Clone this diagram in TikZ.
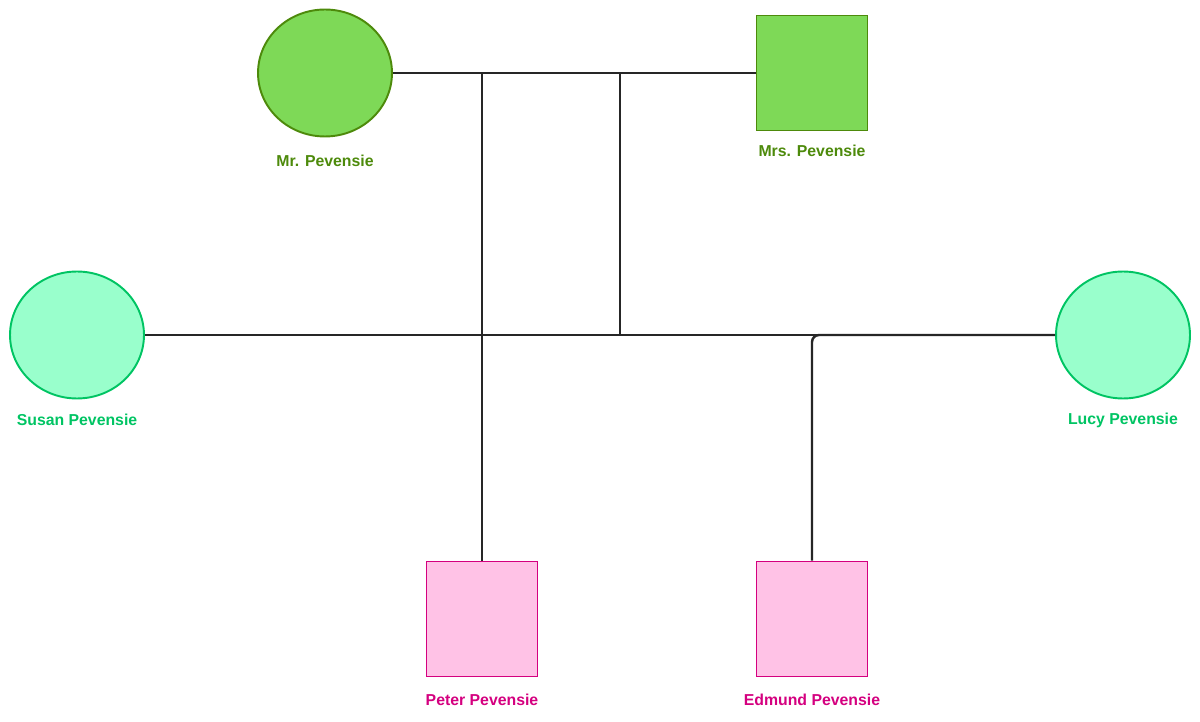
\documentclass[tikz,border=0pt]{standalone}
\usepackage{fontspec}
\setmainfont{Liberation Sans}
\usetikzlibrary{shapes.geometric}

\definecolor{mrfill}{HTML}{7ED957}
\definecolor{mrdraw}{HTML}{4D8A0B}
\definecolor{sisfill}{HTML}{99FFCC}
\definecolor{sisdraw}{HTML}{00C463}
\definecolor{brofill}{HTML}{FFC2E6}
\definecolor{brodraw}{HTML}{D4007F}

\tikzset{
  female/.style={ellipse, draw, line width=1.1pt, minimum width=2.68cm, minimum height=2.54cm, inner sep=0pt},
  male/.style={rectangle, draw, line width=1.1pt, minimum width=2.22cm, minimum height=2.30cm, inner sep=0pt},
  parent/.style={fill=mrfill, draw=mrdraw},
  sister/.style={fill=sisfill, draw=sisdraw},
  brother/.style={fill=brofill, draw=brodraw},
  personlabel/.style={font=\bfseries\fontsize{9}{10}\selectfont},
  link/.style={draw=black!85, line width=0.8pt}
}

\begin{document}
\begin{tikzpicture}[x=0.02cm, y=-0.02cm]
\useasboundingbox (0,0) rectangle (1200,722);
% parents
\node[female, parent] (mr) at (325,73) {};
\node[male, parent] (mrs) at (812,73) {};
\node[personlabel, text=mrdraw] (mrlabel) at (325,161) {Mr. Pevensie};
\node[personlabel, text=mrdraw] (mrslabel) at (812,151) {Mrs. Pevensie};
% children
\node[female, sister] (susan) at (77,335) {};
\node[female, sister] (lucy) at (1123,335) {};
\node[male, brother] (peter) at (482,619) {};
\node[male, brother] (edmund) at (812,619) {};
\node[personlabel, text=sisdraw] (susanlabel) at (77,420) {Susan Pevensie};
\node[personlabel, text=sisdraw] (lucylabel) at (1123,420) {Lucy Pevensie};
\node[personlabel, text=brodraw] (peterlabel) at (482,700) {Peter Pevensie};
\node[personlabel, text=brodraw] (edmundlabel) at (812,700) {Edmund Pevensie};
% lines
\coordinate (drop) at (620,73);
\draw[link] (mr.east) -- (mrs.west);
\draw[link] (peter.north |- mr.east) -- (peter.north);
\draw[link] (drop) -- (drop |- susan.east);
\draw[link] (susan.east) -- (lucy.west);
\draw[link, line width=1.4pt, rounded corners=4pt] (edmund.north) |- (lucy.west);
\end{tikzpicture}
\end{document}
